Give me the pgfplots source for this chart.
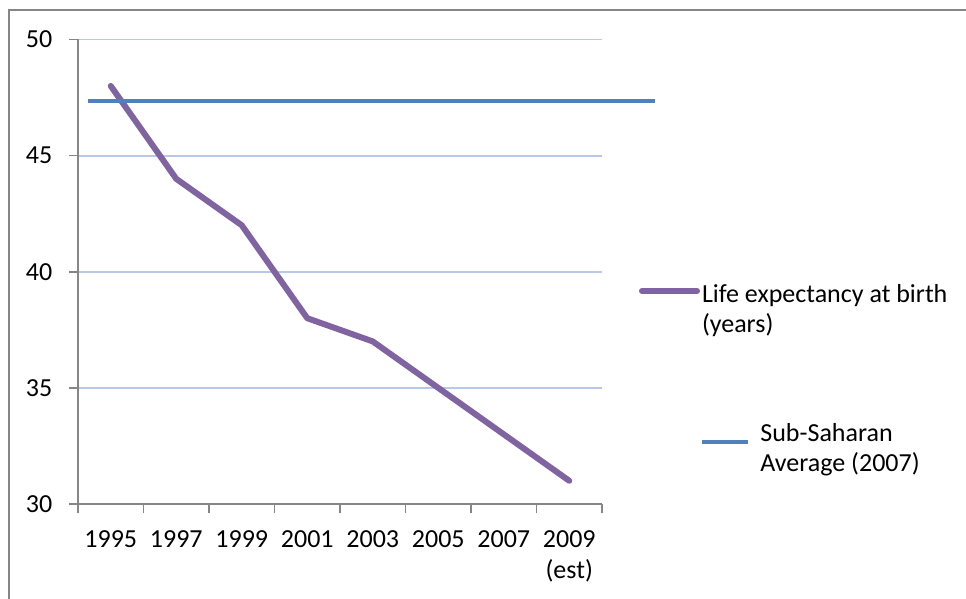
\documentclass[border=0pt]{standalone}
\usepackage{fontspec}
\setmainfont{Carlito}
\usepackage{pgfplots}
\pgfplotsset{compat=1.18}
\definecolor{lifepurple}{HTML}{8064A2}
\definecolor{avgblue}{HTML}{4F81BD}
\definecolor{axisgray}{HTML}{868686}
\definecolor{gridblue}{HTML}{B7C8E8}

\begin{document}
\begin{tikzpicture}[x=1pt, y=1pt, font=\fontsize{13}{15.5}\selectfont]
% page frame (cut off at right and bottom in the original)
\path[use as bounding box] (0,0) rectangle (483,299.5);
\draw[axisgray, line width=1pt] (4.5,0) -- (4.5,294.5) -- (483,294.5);

\begin{axis}[
    at={(39pt,47.5pt)}, anchor=south west,
    scale only axis, width=262pt, height=232.25pt,
    xmin=-0.5, xmax=7.5, ymin=30, ymax=50,
    axis lines=left,
    axis line style={-, axisgray, line width=0.8pt},
    tick align=outside, major tick length=4.35pt,
    tick style={axisgray, line width=0.8pt},
    ytick={30,35,40,45,50},
    ymajorgrids, grid style={gridblue, line width=0.9pt},
    xtick={-0.5,0.5,...,7.5}, xticklabels={},
    extra x ticks={0,1,2,3,4,5,6,7},
    extra x tick labels={1995,1997,1999,2001,2003,2005,2007,{2009\\(est)}},
    extra x tick style={grid=none, tick style={draw=none}},
    xticklabel style={align=center, yshift=-5.5pt},
    yticklabel style={xshift=-5pt},
    /pgf/number format/assume math mode=true,
    clip=false,
]
% Life expectancy at birth (years)
\addplot[lifepurple, line width=3pt, line join=round, line cap=round]
    coordinates {(0,48) (1,44) (2,42) (3,38) (4,37) (5,35) (6,33) (7,31)};
% Sub-Saharan average (2007)
\addplot[avgblue, line width=2pt]
    coordinates {(-0.35,47.35) (8.31,47.35)};
\end{axis}

% legend
\draw[lifepurple, line width=3pt, line cap=round] (321,154) -- (348.5,154);
\node[anchor=base west, inner sep=0pt] at (350.8,148.2) {Life expectancy at birth};
\node[anchor=base west, inner sep=0pt] at (350.8,133.2) {(years)};
\draw[avgblue, line width=2pt] (351,78.5) -- (374,78.5);
\node[anchor=base west, inner sep=0pt] at (380,78.5) {Sub-Saharan};
\node[anchor=base west, inner sep=0pt] at (380,63.5) {Average (2007)};
\end{tikzpicture}
\end{document}
